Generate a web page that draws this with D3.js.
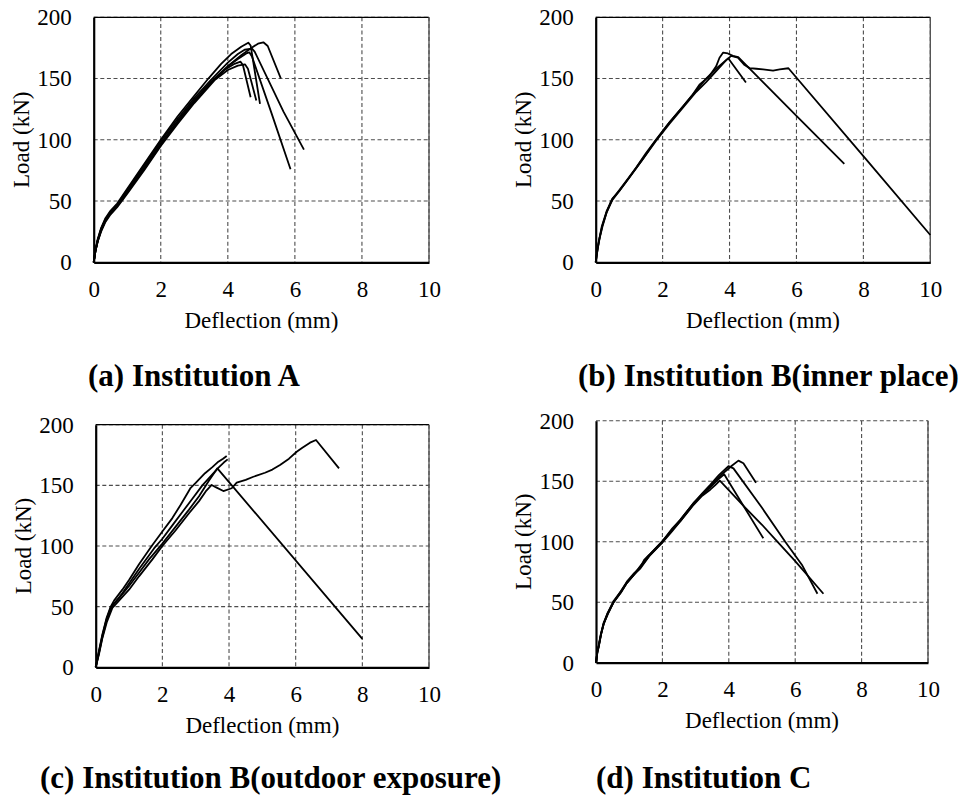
<!DOCTYPE html>
<html>
<head>
<meta charset="utf-8">
<script src="https://cdn.jsdelivr.net/npm/d3@7"></script>
<style>
  html, body { margin: 0; padding: 0; background: #fff; }
  svg { display: block; }
</style>
</head>
<body>
<svg id="fig" width="974" height="799"></svg>
<script>
// Axis ticks and labels shared by all four load–deflection panels
const xTicks = [0, 2, 4, 6, 8, 10];
const yTicks = [0, 50, 100, 150, 200];
const xLabel = "Deflection (mm)";
const yLabel = "Load (kN)";
const panelTitles = [
  "(a) Institution A",
  "(b) Institution B(inner place)",
  "(c) Institution B(outdoor exposure)",
  "(d) Institution C"
];

// Load–deflection curves, [deflection mm, load kN]
const curvesA = [
  [[0,0],[0.05,9],[0.12,18],[0.22,27],[0.35,35],[0.5,41],[0.7,47],[1.0,58],[1.5,77],[2.0,97],[2.5,115],[3.0,132],[3.5,147],[4.0,160],[4.4,169],[4.7,175],[4.9,178.5],[5.06,179.6],[5.19,176.6],[5.58,150.2]],
  [[0,0],[0.05,10],[0.12,19],[0.22,28],[0.35,36],[0.5,42],[0.7,48],[1.0,60],[1.5,80],[2.0,100],[2.5,119],[3.0,136],[3.42,150],[3.8,162],[4.1,170],[4.4,176],[4.61,179.3],[4.68,177],[4.96,129.3]],
  [[0,0],[0.05,9],[0.12,18],[0.22,27],[0.35,35],[0.5,41],[0.7,47],[1.0,59],[1.5,79],[2.0,99],[2.5,117],[3.0,134],[3.5,149],[4.0,163],[4.3,170],[4.5,173.5],[4.72,174.5],[4.8,172],[5.66,123],[6.27,92]],
  [[0,0],[0.05,9],[0.12,18],[0.22,26],[0.35,34],[0.5,40],[0.7,46],[1.0,57],[1.5,77],[2.0,97],[2.5,115],[3.0,132],[3.5,147],[4.0,160],[4.3,166],[4.55,170.5],[4.64,171.4],[4.72,168],[5.3,122],[5.87,76]],
  [[0,0],[0.05,9],[0.12,17],[0.22,26],[0.35,34],[0.5,40],[0.7,46],[1.0,57],[1.5,76],[2.0,96],[2.5,114],[3.0,131],[3.55,148],[3.9,157],[4.2,162],[4.38,163.8],[4.45,161],[4.68,134.7]],
  [[0,0],[0.05,9],[0.12,17],[0.22,25],[0.35,33],[0.5,39],[0.7,45],[1.0,56],[1.5,75],[2.0,95],[2.5,113],[3.0,130],[3.62,149],[4.0,157],[4.3,160.5],[4.51,161.6],[4.6,158],[4.85,132]]
];

const curvesB = [
  [[0,0],[0.04,8],[0.08,15],[0.18,29],[0.33,42],[0.5,52],[0.7,58],[1.0,69],[1.4,84],[1.78,99],[2.2,114],[2.6,127],[3.0,140],[3.3,150],[3.6,158],[3.96,166.5],[4.49,146.7]],
  [[0,0],[0.05,10],[0.1,18],[0.2,30],[0.33,41],[0.48,51],[0.65,57],[0.9,66],[1.2,77],[1.5,89],[1.8,100],[2.2,114],[2.6,127],[2.9,137],[3.1,145],[3.4,152],[3.6,160],[3.7,167],[3.81,171.2],[3.95,170.5],[4.1,168.5],[4.26,167.5],[5.0,147],[6.0,119.5],[7.43,80.3]],
  [[0,0],[0.06,11],[0.12,20],[0.2,29],[0.33,41],[0.5,51],[0.7,58],[1.0,69],[1.4,84],[1.8,99],[2.2,113],[2.6,126],[3.0,139],[3.3,147],[3.6,156],[3.9,165],[4.05,168.5],[4.25,167],[4.45,161],[4.6,158.5],[4.8,158],[5.0,157.5],[5.3,156.5],[5.5,157.5],[5.76,158.4],[8.0,86.7],[10,22.3]]
];

const curvesC = [
  [[0,0],[0.1,14],[0.2,27],[0.33,41],[0.45,50],[0.55,55],[0.8,64],[1.0,72],[1.3,85],[1.68,100],[2.0,112],[2.3,123],[2.55,134],[2.7,141],[2.85,148],[3.0,152],[3.28,160],[3.5,165],[3.68,169.5],[3.82,172],[3.93,174.2]],
  [[0,0],[0.1,13],[0.2,26],[0.33,40],[0.45,49],[0.6,54],[0.8,61],[1.0,69],[1.3,81],[1.75,98],[2.0,106],[2.3,117],[2.6,128],[2.9,139],[3.2,150],[3.5,159],[3.7,165],[3.85,169],[3.96,171.4]],
  [[0,0],[0.1,12],[0.2,25],[0.33,39],[0.5,51],[0.7,57],[1.0,67],[1.3,78],[1.6,89],[2.0,102],[2.4,116],[2.8,130],[3.1,141],[3.4,154],[3.55,160],[3.65,164],[8.0,23.4]],
  [[0,0],[0.1,11],[0.2,24],[0.33,37],[0.5,49],[0.7,55],[1.0,64],[1.3,75],[1.7,89],[2.0,100],[2.4,113],[2.8,127],[3.1,137],[3.3,145],[3.48,150.3],[3.6,148.5],[3.83,145.3],[4.08,147.6],[4.23,152.2],[4.5,154.5],[4.73,157.1],[5.08,160.4],[5.3,163],[5.53,166.8],[5.8,172],[6.03,177.7],[6.2,181],[6.43,185.2],[6.61,187.4],[7.3,164]]
];

const curvesD = [
  [[0,0],[0.04,9],[0.08,14],[0.15,24],[0.23,32],[0.35,40],[0.53,50],[0.75,59],[0.93,66],[1.15,73],[1.34,79],[1.6,88],[1.99,99.5],[2.3,110],[2.54,117],[2.94,130.5],[3.2,138],[3.44,143],[3.6,147],[3.73,150.4],[4.5,128],[5.0,114],[5.4,102],[6.0,84],[6.85,57]],
  [[0,0],[0.04,9],[0.08,13],[0.15,23],[0.23,32],[0.35,40],[0.53,50],[0.75,58],[0.93,66],[1.15,73],[1.34,80],[1.6,89],[1.99,100],[2.3,110],[2.54,118],[2.94,132],[3.2,139],[3.44,145],[3.7,152],[3.86,155.7],[5.04,102.8]],
  [[0,0],[0.04,8],[0.08,13],[0.15,23],[0.23,32],[0.35,41],[0.53,51],[0.75,59],[0.93,67],[1.15,74],[1.34,79],[1.45,85],[1.6,89],[1.99,100],[2.3,111],[2.54,118],[2.94,132],[3.2,140],[3.44,147],[3.7,155],[3.99,162.5],[4.14,160.6],[5.0,128],[5.7,100],[6.2,81],[6.67,57]],
  [[0,0],[0.04,9],[0.08,14],[0.15,24],[0.23,33],[0.35,41],[0.53,50],[0.75,58],[0.93,66],[1.15,73],[1.34,78],[1.6,88],[1.99,99],[2.3,109],[2.54,117],[2.94,131],[3.2,139],[3.44,146],[3.8,156],[4.1,163],[4.29,167],[4.44,164.8],[4.82,148.8]]
];

const FONT = "Liberation Serif";

const panels = [
  { curves: curvesA, title: panelTitles[0], left: 93.7, top: 17.3, w: 335.3, h: 245,   tx: 88,  ty: 385.7, topBorder: true },
  { curves: curvesB, title: panelTitles[1], left: 595.7, top: 17.3, w: 334.6, h: 245,  tx: 578, ty: 385.7, topBorder: true },
  { curves: curvesC, title: panelTitles[2], left: 95.7, top: 424.7, w: 333.3, h: 242.6, tx: 40,  ty: 788,   topBorder: true },
  { curves: curvesD, title: panelTitles[3], left: 596, top: 420.7, w: 332, h: 242,     tx: 596, ty: 788,   topBorder: false }
];

const svg = d3.select("#fig");

panels.forEach(p => {
  const g = svg.append("g").attr("transform", `translate(${p.left},${p.top})`);
  const x = d3.scaleLinear().domain([0, 10]).range([0, p.w]);
  const y = d3.scaleLinear().domain([0, 200]).range([p.h, 0]);

  // dashed grid
  g.append("g").selectAll("line").data(xTicks.filter(d => d > 0)).join("line")
    .attr("x1", d => x(d)).attr("x2", d => x(d)).attr("y1", 0).attr("y2", p.h)
    .attr("stroke", "#4d4d4d").attr("stroke-width", 1.1).attr("stroke-dasharray", "4,2.6");
  g.append("g").selectAll("line").data(yTicks.filter(d => d > 0)).join("line")
    .attr("x1", 0).attr("x2", p.w).attr("y1", d => y(d)).attr("y2", d => y(d))
    .attr("stroke", "#4d4d4d").attr("stroke-width", 1.1).attr("stroke-dasharray", "4,2.6");

  // plot frame (top and right)
  if (p.topBorder) {
    g.append("line").attr("x1", 0).attr("x2", p.w).attr("y1", 0).attr("y2", 0)
      .attr("stroke", "#000").attr("stroke-width", 1.2);
  }
  g.append("line").attr("x1", p.w).attr("x2", p.w).attr("y1", 0).attr("y2", p.h)
    .attr("stroke", "#555").attr("stroke-width", 1.4);

  // load–deflection curves
  const line = d3.line().x(d => x(d[0])).y(d => y(d[1]));
  g.append("g").selectAll("path").data(p.curves).join("path")
    .attr("d", line)
    .attr("fill", "none").attr("stroke", "#000").attr("stroke-width", 1.8)
    .attr("stroke-linejoin", "round");

  // axes
  const ax = g.append("g").attr("transform", `translate(0,${p.h})`)
    .call(d3.axisBottom(x).tickValues(xTicks).tickSize(0).tickPadding(18).tickFormat(d3.format("d")));
  const ay = g.append("g")
    .call(d3.axisLeft(y).tickValues(yTicks).tickSize(0).tickPadding(22).tickFormat(d3.format("d")));
  [ax, ay].forEach(a => {
    a.attr("font-family", FONT).attr("font-size", 23);
    a.select(".domain").attr("stroke", "#000").attr("stroke-width", 2.2);
    a.selectAll("text").attr("fill", "#000");
  });

  // axis titles
  g.append("text").attr("x", p.w / 2).attr("y", p.h + 65.7)
    .attr("text-anchor", "middle").attr("font-family", FONT).attr("font-size", 23)
    .text(xLabel);
  g.append("text")
    .attr("transform", `translate(-65,${p.h / 2}) rotate(-90)`)
    .attr("text-anchor", "middle").attr("font-family", FONT).attr("font-size", 23)
    .text(yLabel);

  // panel caption
  svg.append("text").attr("x", p.tx).attr("y", p.ty)
    .attr("font-family", FONT).attr("font-size", 31).attr("font-weight", "bold")
    .text(p.title);
});
</script>
</body>
</html>
